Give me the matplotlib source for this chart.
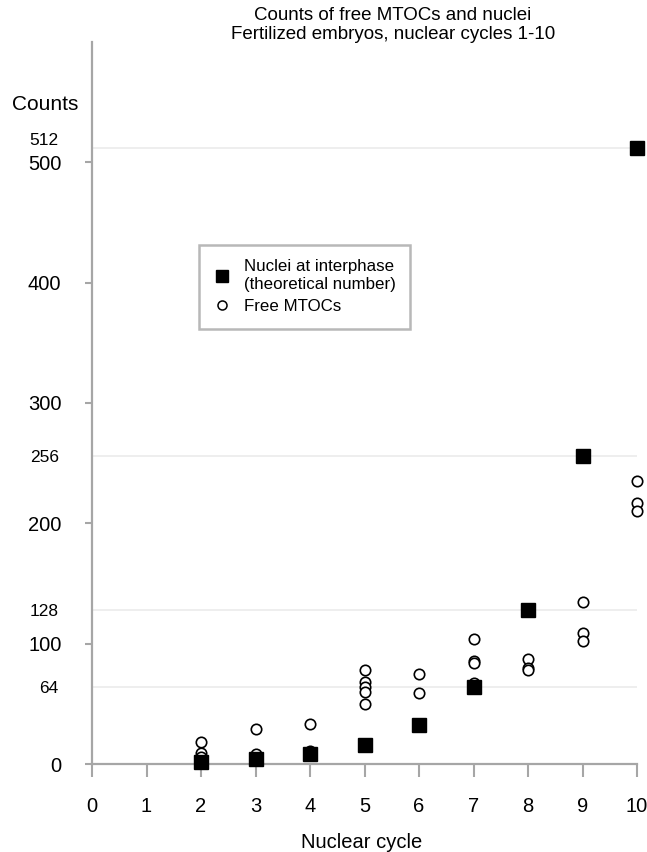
import matplotlib
matplotlib.use("Agg")
import matplotlib.pyplot as plt
from matplotlib.lines import Line2D

plt.rcParams['font.family'] = ['Liberation Sans', 'DejaVu Sans']

# Data
nuclei_cycles = [2, 3, 4, 5, 6, 7, 8, 9, 10]
nuclei_counts = [2, 4, 8, 16, 32, 64, 128, 256, 512]

mtoc_cycles = [2, 2, 2,
               3, 3,
               4, 4,
               5, 5, 5, 5, 5,
               6, 6,
               7, 7, 7, 7,
               8, 8, 8,
               9, 9, 9,
               10, 10, 10]
mtoc_counts = [18, 9, 6,
               29, 8,
               33, 11,
               78, 68, 64, 60, 50,
               75, 59,
               104, 86, 84, 67,
               87, 80, 78,
               135, 109, 102,
               235, 217, 210]

major_yticks = [0, 100, 200, 300, 400, 500]
minor_yticks = [64, 128, 256, 512]
xticks = list(range(0, 11))

title = "Counts of free MTOCs and nuclei\nFertilized embryos, nuclear cycles 1-10"

fig = plt.figure(figsize=(6.47, 8.52), dpi=100)
ax = fig.add_axes([92/647, 1-764/852, (637-92)/647, (764-42)/852])

axis_col = '#a6a6a6'
ax.set_xlim(0, 10)
ax.set_ylim(0, 600)

for s in ['top', 'right']:
    ax.spines[s].set_visible(False)
for s in ['left', 'bottom']:
    ax.spines[s].set_color(axis_col)
    ax.spines[s].set_linewidth(1.6)

# gridlines at powers of two
for v in minor_yticks:
    ax.axhline(v, color='#ebebeb', lw=1.2, zorder=0)

ax.set_xticks(xticks)
ax.set_xticklabels([str(t) for t in xticks], fontsize=14.5)
ax.tick_params(axis='x', length=9, width=1.5, color=axis_col, pad=15)

ax.set_yticks(major_yticks)
ax.set_yticklabels([str(t) for t in major_yticks], fontsize=14.5)
ax.tick_params(axis='y', which='major', length=5, width=1.5, color=axis_col, pad=17)
ax.set_yticks(minor_yticks, minor=True)
ax.set_yticklabels([str(t) for t in minor_yticks], minor=True, fontsize=12.5)
ax.tick_params(axis='y', which='minor', length=0, pad=24)
# the 512 label sits just above its gridline, clear of the 500 label
ax.yaxis.get_minorticklabels()[-1].set_verticalalignment('bottom')

ax.plot(mtoc_cycles, mtoc_counts, linestyle='none', marker='o', markersize=7.5,
        markerfacecolor='white', markeredgecolor='black', markeredgewidth=1.2,
        clip_on=False, zorder=3)
ax.plot(nuclei_cycles, nuclei_counts, linestyle='none', marker='s', markersize=9.5,
        markerfacecolor='black', markeredgecolor='black', clip_on=False, zorder=4)

fig.text(393/647, 1-7/852, title, ha='center', va='top', fontsize=13.5, linespacing=1.12)
fig.text(45/647, 1-105/852, "Counts", ha='center', va='center', fontsize=15)
fig.text(362/647, 1-842/852, "Nuclear cycle", ha='center', va='center', fontsize=14.5)

handles = [Line2D([], [], linestyle='none', marker='s', markersize=8.5, color='black'),
           Line2D([], [], linestyle='none', marker='o', markersize=6.5,
                  markerfacecolor='white', markeredgecolor='black', markeredgewidth=1.1)]
leg = ax.legend(handles, ["Nuclei at interphase\n(theoretical number)", "Free MTOCs"],
                loc='upper left', bbox_to_anchor=(199/647, 1-245/852),
                bbox_transform=fig.transFigure, fancybox=False, frameon=True,
                edgecolor='#a6a6a6', fontsize=12.2, handlelength=1.0,
                handletextpad=0.8, borderpad=0.85, labelspacing=0.45,
                borderaxespad=0)
leg.get_frame().set_linewidth(1.8)

fig.savefig("out.png", dpi=100)
